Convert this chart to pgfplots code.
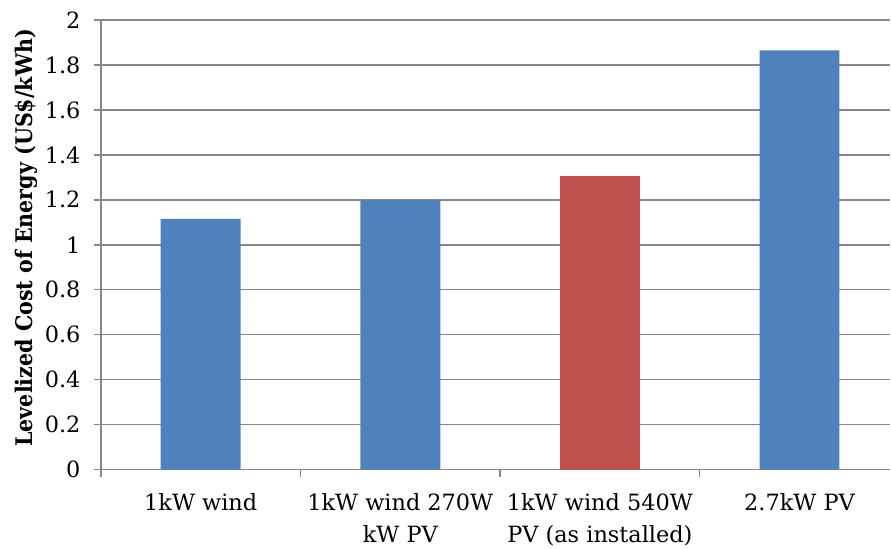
\documentclass[border=0pt]{standalone}
\usepackage{pgfplots}
\pgfplotsset{compat=1.18}
\usepackage{fontspec}
\setmainfont{DejaVu Serif}
\newfontfamily\labfont{DejaVu Serif Condensed}
\definecolor{barblue}{HTML}{4F81BD}
\definecolor{barred}{HTML}{C0504D}
\definecolor{gridgray}{HTML}{878787}
\begin{document}
\begin{tikzpicture}
\begin{axis}[
  name=ax,
  scale only axis,
  width=790bp, height=450bp,
  xmin=-0.5, xmax=3.455,
  ymin=0, ymax=2,
  ytick={0,0.2,...,2.01},
  yticklabels={0,0.2,0.4,0.6,0.8,1,1.2,1.4,1.6,1.8,2},
  ymajorgrids,
  grid style={gridgray, line width=1.4bp},
  axis x line*=bottom, axis y line*=left,
  axis line style={gridgray, line width=1.4bp},
  tick style={gridgray, line width=1.4bp},
  tick align=outside,
  major tick length=7bp,
  xtick={-0.5,0.5,1.5,2.5},
  xticklabels={},
  extra x ticks={0,1,2,3},
  extra x tick labels={1kW wind,1kW wind 270W\\kW PV,1kW wind 540W\\PV (as installed),2.7kW PV},
  extra x tick style={major tick length=0pt, grid=none,
     tick label style={align=center, font=\fontsize{22.5}{32}\selectfont, yshift=-20bp}},
  yticklabel style={font=\fontsize{22.5}{30}\selectfont, xshift=-10bp},
  /pgf/number format/assume math mode=true,
  ylabel={\labfont\bfseries Levelized Cost of Energy (US\$/kWh)},
  ylabel style={font=\fontsize{23}{30}\selectfont},
  every axis y label/.append style={at={(ticklabel cs:0.56)}, xshift=-20bp},
  clip=false,
]
\addplot[ybar, bar width=80bp, fill=barblue, draw=none] coordinates {(0,1.115) (1,1.2) (3,1.865)};
\addplot[ybar, bar width=80bp, fill=barred, draw=none] coordinates {(2,1.305)};
\end{axis}
\path (ax.south west) ++(-101bp,-78bp) rectangle ++(891bp,548bp);
\end{tikzpicture}
\end{document}
